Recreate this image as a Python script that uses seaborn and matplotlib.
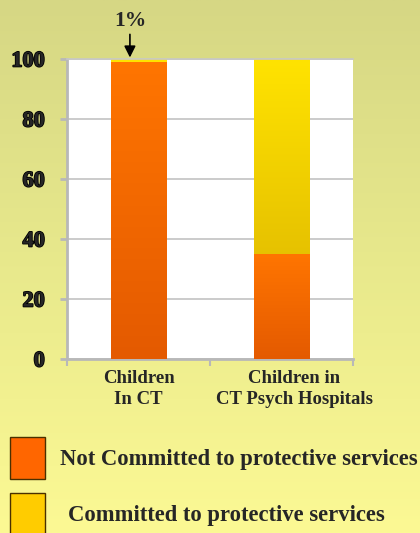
import numpy as np
import pandas as pd
import matplotlib
matplotlib.use("Agg")
import matplotlib.pyplot as plt
from matplotlib.patches import Rectangle
from matplotlib.colors import LinearSegmentedColormap
from matplotlib.transforms import ScaledTranslation
import matplotlib.patheffects as pe
import seaborn as sns

# Share of children, in percent
categories = ["Children\nIn CT", "Children in\nCT Psych Hospitals"]
not_committed = [99, 35]
committed = [1, 65]
yticks = [0, 20, 40, 60, 80, 100]
series_names = ["Not Committed to protective services", "Committed to protective services"]

orange_grad = ("#ff7500", "#e45a00")
gold_grad = ("#ffe300", "#d9b000")
legend_colors = ["#ff6600", "#ffcc00"]

sns.set_theme(style="white")
plt.rcParams["font.family"] = ["Liberation Serif", "DejaVu Serif"]

W, H = 420, 533
fig = plt.figure(figsize=(W / 100, H / 100), dpi=100)

# Vertical background gradient over the whole figure
bg = fig.add_axes([0, 0, 1, 1], zorder=-10)
bg_cmap = LinearSegmentedColormap.from_list("bg", ["#d6d784", "#e8e98c", "#fcf994"])
bg.imshow(np.linspace(0, 1, 256)[:, None], aspect="auto", cmap=bg_cmap,
          extent=[0, 1, 0, 1])
bg.set_axis_off()

ax = fig.add_axes([67 / W, 1 - 359 / H, 286 / W, 300 / H])
ax.set_facecolor("white")

df = pd.DataFrame({
    "category": categories,
    "total": np.array(not_committed) + np.array(committed),
    "not_committed": not_committed,
})

sns.barplot(data=df, x="category", y="total", color=gold_grad[0],
            width=0.39, ax=ax, zorder=2, linewidth=0)
n_total = len(ax.patches)
sns.barplot(data=df, x="category", y="not_committed", color=orange_grad[0],
            width=0.39, ax=ax, zorder=3, linewidth=0)

# Paint each bar segment with a vertical gradient
def paint(patch, colors, z):
    x0, y0 = patch.get_x(), patch.get_y()
    w, h = patch.get_width(), patch.get_height()
    cmap = LinearSegmentedColormap.from_list("g", [colors[1], colors[0]])
    im = ax.imshow(np.linspace(0, 1, 128)[:, None], aspect="auto", cmap=cmap,
                   origin="lower", extent=[x0, x0 + w, y0, y0 + h], zorder=z)
    im.set_clip_path(patch)

for i, p in enumerate(ax.patches):
    if i < n_total:
        paint(p, gold_grad, 2.5)
    else:
        paint(p, orange_grad, 3.5)

ax.set_xlim(-0.5, 1.5)
ax.set_ylim(0, 100)
ax.set_yticks(yticks)
ax.set_yticklabels([str(t) for t in yticks], fontsize=16, fontweight="bold")
for lab in ax.get_yticklabels():
    lab.set_path_effects([pe.withStroke(linewidth=1.2, foreground="black")])
ax.yaxis.grid(True, color="#c2c2c2", linewidth=1.2, zorder=1)
ax.set_axisbelow(True)
ax.set_xlabel("")
ax.set_ylabel("")

ax.tick_params(axis="y", length=5, width=2, color="#b8b8b8", pad=11, left=True)
ax.tick_params(axis="x", which="major", length=0, pad=8, labelsize=13.5)
for lab in ax.get_xticklabels():
    lab.set_fontweight("bold")
    lab.set_linespacing(1.3)
ax.set_xticks([-0.5, 0.5, 1.5], minor=True)
ax.tick_params(axis="x", which="minor", length=5, width=1.5, color="#b8b8b8",
               bottom=True)

xl = ax.get_xticklabels()
xl[1].set_transform(xl[1].get_transform() + ScaledTranslation(0.13, 0, fig.dpi_scale_trans))

ax.spines["right"].set_visible(False)
ax.spines["top"].set_color("#c8c8c8")
ax.spines["top"].set_linewidth(1.2)
for side in ["left", "bottom"]:
    ax.spines[side].set_color("#b8b8b8")
    ax.spines[side].set_linewidth(2)

# Label for the thin committed slice on the first bar
ax.annotate(f"{committed[0]}%", xy=(-0.06, 100.5), xytext=(-0.06, 109.3),
            ha="center", va="bottom", fontsize=15.5, fontweight="bold",
            annotation_clip=False,
            arrowprops=dict(arrowstyle="-|>", color="black", lw=1.2,
                            mutation_scale=17, shrinkA=0, shrinkB=0))

# Legend boxes and labels
fig.patches.append(Rectangle((10 / W, 1 - 479 / H), 35 / W, 42 / H,
                             transform=fig.transFigure, facecolor=legend_colors[0],
                             edgecolor="#4a3000", linewidth=1))
fig.patches.append(Rectangle((10 / W, 1 - 536 / H), 35 / W, 43 / H,
                             transform=fig.transFigure, facecolor=legend_colors[1],
                             edgecolor="#4a3000", linewidth=1))
fig.text(60 / W, 1 - 459 / H, series_names[0], fontsize=16.3, fontweight="bold",
         va="center", ha="left")
fig.text(68 / W, 1 - 515 / H, series_names[1], fontsize=16.3, fontweight="bold",
         va="center", ha="left")

fig.savefig("out.png", dpi=100)
